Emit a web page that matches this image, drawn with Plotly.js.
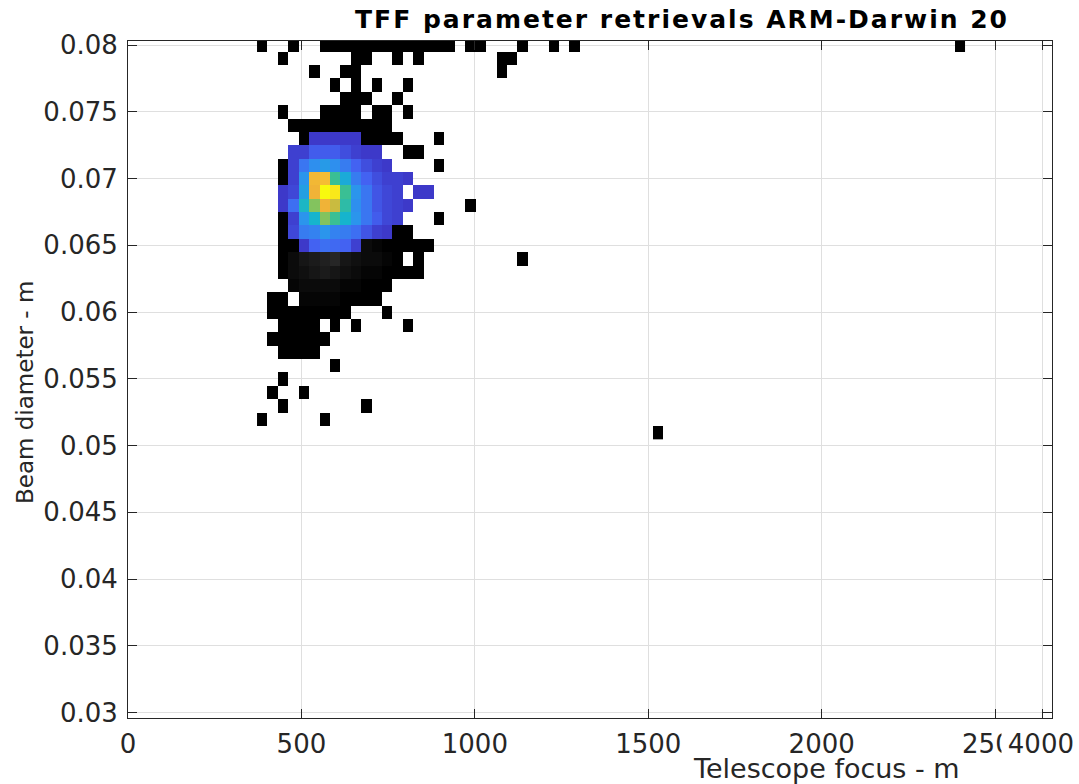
<!DOCTYPE html>
<html>
<head>
<meta charset="utf-8">
<script src="https://cdn.plot.ly/plotly-3.0.1.min.js"></script>
<style>
  html, body { margin: 0; padding: 0; background: #ffffff; }
  #chart { width: 1079px; height: 784px; }
  .gtitle { letter-spacing: 2px; }
</style>
</head>
<body>
<div id="chart"></div>
<script>
// Retrieval counts binned by beam diameter (rows, m) and telescope focus (bin centres, m).
const rowDiameters = [0.080, 0.079, 0.078, 0.077, 0.076, 0.075, 0.074, 0.073, 0.072, 0.071,
                      0.070, 0.069, 0.068, 0.067, 0.066, 0.065, 0.064, 0.063, 0.062, 0.061,
                      0.060, 0.059, 0.058, 0.057, 0.056, 0.055, 0.054, 0.053, 0.052, 0.051];

const rowFocus = [
  [387, 477, 567, 597, 627, 657, 687, 717, 747, 777, 807, 837, 867, 897, 927, 987, 1017, 1137, 1227, 1287, 2397],
  [447, 657, 687, 777, 837, 1077, 1107],
  [537, 627, 657, 1077],
  [597, 657, 717, 807],
  [627, 657, 687, 777],
  [447, 567, 597, 627, 657, 717, 747, 807],
  [477, 507, 537, 567, 597, 627, 657, 687, 717, 747],
  [507, 537, 567, 597, 627, 657, 687, 717, 747, 777, 897],
  [477, 507, 537, 567, 597, 627, 657, 687, 717, 807, 837],
  [447, 477, 507, 537, 567, 597, 627, 657, 687, 717, 747, 897],
  [447, 477, 507, 537, 567, 597, 627, 657, 687, 717, 747, 777, 807],
  [447, 477, 507, 537, 567, 597, 627, 657, 687, 717, 747, 777, 837, 867],
  [447, 477, 507, 537, 567, 597, 627, 657, 687, 717, 747, 777, 807, 987],
  [447, 477, 507, 537, 567, 597, 627, 657, 687, 717, 747, 777, 897],
  [447, 477, 507, 537, 567, 597, 627, 657, 687, 717, 747, 777, 807],
  [447, 477, 507, 537, 567, 597, 627, 657, 687, 717, 747, 777, 807, 837, 867],
  [447, 477, 507, 537, 567, 597, 627, 657, 687, 717, 747, 777, 837, 1137],
  [447, 477, 507, 537, 567, 597, 627, 657, 687, 717, 747, 777, 807, 837],
  [477, 507, 537, 567, 597, 627, 657, 687, 717, 747],
  [417, 447, 507, 537, 567, 597, 627, 657, 687, 717],
  [417, 447, 477, 507, 537, 567, 597, 627, 747],
  [447, 477, 507, 537, 597, 657, 807],
  [417, 447, 477, 507, 537, 567],
  [447, 477, 507, 537],
  [597],
  [447],
  [417, 507],
  [447, 687],
  [387, 567],
  [1527]
];

const rowCounts = [
  [1, 1, 1, 1, 1, 1, 1, 1, 1, 1, 1, 1, 1, 1, 1, 1, 1, 1, 1, 1, 1],
  [1, 1, 1, 1, 1, 1, 1],
  [1, 1, 1, 1],
  [1, 1, 1, 1],
  [1, 1, 1, 1],
  [1, 1, 1, 1, 1, 1, 1, 1],
  [1, 1, 1, 1, 1, 1, 1, 1, 1, 1],
  [1, 11, 11, 11, 11, 11, 1, 1, 1, 1, 1],
  [12, 12, 16, 16, 16, 14, 12, 11, 11, 1, 1],
  [1, 12, 20, 24, 26, 24, 21, 17, 14, 12, 11, 1],
  [1, 12, 25, 51, 52, 37, 29, 21, 17, 14, 12, 12, 11],
  [11, 13, 27, 50, 60, 58, 37, 25, 20, 15, 13, 12, 11, 11],
  [11, 19, 32, 42, 50, 47, 35, 24, 20, 15, 13, 12, 11, 1],
  [1, 12, 25, 31, 42, 37, 31, 25, 20, 16, 13, 12, 1],
  [1, 13, 21, 22, 25, 22, 21, 19, 15, 12, 11, 1, 1],
  [1, 1, 11, 17, 19, 18, 17, 12, 3, 2, 1, 1, 1, 1, 1],
  [1, 3, 5, 6, 7, 8, 5, 4, 3, 3, 2, 1, 1, 1],
  [1, 3, 4, 5, 6, 5, 4, 3, 2, 2, 1, 1, 1, 1],
  [2, 3, 3, 3, 3, 2, 2, 1, 1, 1],
  [1, 1, 2, 2, 2, 2, 1, 1, 1, 1],
  [1, 1, 1, 1, 1, 1, 1, 1, 1],
  [1, 1, 1, 1, 1, 1, 1],
  [1, 1, 1, 1, 1, 1],
  [1, 1, 1, 1],
  [1],
  [1],
  [1, 1],
  [1, 1],
  [1, 1],
  [1]
];

// Axis ticks
const xTickVals = [0, 500, 1000, 1500, 2000, 2500, 2638];
const xTickText = ['0', '500', '1000', '1500', '2000', '2500', ''];
const xBreakLabel = '4000';
const yTickVals = [0.03, 0.035, 0.04, 0.045, 0.05, 0.055, 0.06, 0.065, 0.07, 0.075, 0.08];
const yTickText = ['0.03', '0.035', '0.04', '0.045', '0.05', '0.055', '0.06', '0.065', '0.07', '0.075', '0.08'];

// Bin geometry
const focusStart = 387, focusStep = 30;
const diamStart = 0.051, diamStep = 0.001;

// Build the count grid from the row lists
let maxFocus = 0;
rowFocus.forEach(r => r.forEach(f => { if (f > maxFocus) maxFocus = f; }));
const nCols = Math.round((maxFocus - focusStart) / focusStep) + 1;
const nRows = rowDiameters.length;
const z = [];
for (let i = 0; i < nRows; i++) z.push(new Array(nCols).fill(null));
rowDiameters.forEach((d, r) => {
  const ri = Math.round((d - diamStart) / diamStep);
  rowFocus[r].forEach((f, c) => {
    const ci = Math.round((f - focusStart) / focusStep);
    z[ri][ci] = rowCounts[r][c];
  });
});

// Low counts in a black-to-grey ramp, higher counts in a parula-like ramp
const colorscale = [
  [0.0, '#000000'],
  [0.144, '#2e2e2e'],
  [0.1441, '#3b2fbf'],
  [0.2725, '#4363f3'],
  [0.4008, '#2c93ee'],
  [0.5036, '#14b3d0'],
  [0.6148, '#3cc091'],
  [0.7261, '#9ec44a'],
  [0.8288, '#f0b237'],
  [0.9144, '#fbcc2d'],
  [1.0, '#f8fa0e']
];

const trace = {
  type: 'heatmap',
  z: z,
  x0: focusStart, dx: focusStep,
  y0: diamStart, dy: diamStep,
  zmin: 1, zmax: 60,
  colorscale: colorscale,
  showscale: false,
  zsmooth: false,
  hoverongaps: false
};

const axisColor = '#262626';
const gridColor = '#dfdfdf';
const tickFont = { family: 'DejaVu Sans', size: 26, color: axisColor };

const layout = {
  width: 1079,
  height: 784,
  margin: { l: 128, r: 27, t: 41, b: 66, pad: 0 },
  paper_bgcolor: '#ffffff',
  plot_bgcolor: '#ffffff',
  showlegend: false,
  title: {
    text: 'TFF parameter retrievals ARM-Darwin 20',
    font: { family: 'DejaVu Sans', size: 25, weight: 'bold', color: '#000000' },
    xref: 'container', x: 355 / 1079, xanchor: 'left',
    yref: 'container', y: 1 - 19 / 784, yanchor: 'middle'
  },
  xaxis: {
    range: [0, 2664],
    tickmode: 'array', tickvals: xTickVals, ticktext: xTickText,
    ticks: 'inside', ticklen: 9, tickwidth: 1, tickcolor: axisColor,
    showline: true, linecolor: axisColor, linewidth: 1, mirror: 'ticks',
    showgrid: true, gridcolor: gridColor, gridwidth: 1,
    zeroline: false,
    tickfont: tickFont,
    ticklabelstandoff: 3
  },
  yaxis: {
    range: [0.0296, 0.0803],
    tickmode: 'array', tickvals: yTickVals, ticktext: yTickText,
    ticks: 'inside', ticklen: 9, tickwidth: 1, tickcolor: axisColor,
    showline: true, linecolor: axisColor, linewidth: 1, mirror: 'ticks',
    showgrid: true, gridcolor: gridColor, gridwidth: 1,
    zeroline: false,
    tickfont: tickFont,
    ticklabelstandoff: 4
  },
  annotations: [
    {
      text: xBreakLabel,
      xref: 'paper', x: (1075 - 128) / 924, xanchor: 'right',
      yref: 'paper', y: (718 - 744) / 677, yanchor: 'middle',
      width: 72, align: 'right', bgcolor: '#ffffff', borderpad: 0,
      showarrow: false,
      font: tickFont
    },
    {
      text: 'Telescope focus - m',
      xref: 'paper', x: (826 - 128) / 924, xanchor: 'center',
      yref: 'paper', y: (718 - 768) / 677, yanchor: 'middle',
      showarrow: false,
      font: { family: 'DejaVu Sans', size: 27, color: axisColor }
    },
    {
      text: 'Beam diameter - m',
      textangle: -90,
      xref: 'paper', x: (25 - 128) / 924, xanchor: 'center',
      yref: 'paper', y: (718 - 393) / 677, yanchor: 'middle',
      showarrow: false,
      font: { family: 'DejaVu Sans', size: 23, color: axisColor }
    }
  ]
};

Plotly.newPlot('chart', [trace], layout, { displayModeBar: false, staticPlot: true });
</script>
</body>
</html>
